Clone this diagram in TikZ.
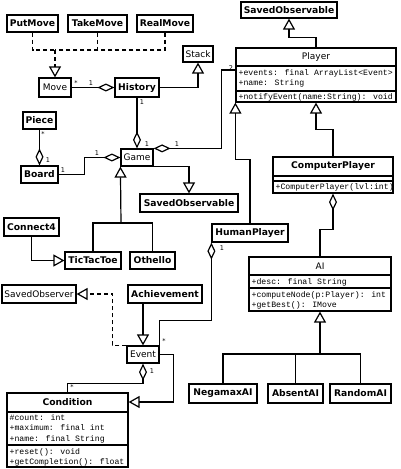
\documentclass[tikz,border=0pt]{standalone}
\usepackage{fontspec}
\setmainfont{DejaVu Sans}
\newfontfamily\monof{Liberation Mono}
\usetikzlibrary{arrows.meta}
\begin{document}
\begin{tikzpicture}[x=1pt,y=-1pt, line width=1.2pt,
 cls/.style={draw, line width=1.2pt, inner sep=0pt, fill=white, font=\fontsize{9.2}{11}\selectfont\bfseries},
 pl/.style={draw, line width=1.2pt, inner sep=0pt, fill=white, font=\fontsize{9}{11}\selectfont},
 ttl/.style={inner sep=0pt, font=\fontsize{9.2}{11}\selectfont\bfseries},
 ttlp/.style={inner sep=0pt, font=\fontsize{9}{11}\selectfont},
 mt/.style={anchor=west, inner sep=0pt, font=\monof\fontsize{8.2}{9}\selectfont},
 lbl/.style={inner sep=0pt, font=\fontsize{6.5}{7}\selectfont},
 inh/.style={-{Triangle[open,length=11pt,width=12pt]}},
 agg/.style={{Diamond[open,length=17pt,width=8pt]}-},
 realz/.style={dash pattern=on 4pt off 3pt}]
\useasboundingbox (0,0) rectangle (400,469);
\fill[white] (0,0) rectangle (400,469);

% class boxes
\node[cls,minimum width=96pt,minimum height=16pt] (so1) at (289,10) {SavedObservable};
\node[cls,minimum width=51pt,minimum height=17pt] (putmove) at (32.5,23.5) {PutMove};
\node[cls,minimum width=59pt,minimum height=17pt] (takemove) at (97.5,23.5) {TakeMove};
\node[cls,minimum width=56pt,minimum height=17pt] (realmove) at (165,23.5) {RealMove};
\node[pl,minimum width=30pt,minimum height=16pt] (stack) at (198,54) {Stack};
\node[pl,minimum width=32pt,minimum height=19pt] (move) at (55,87.5) {Move};
\node[cls,minimum width=44pt,minimum height=19pt] (history) at (137,87.5) {History};
\node[pl,minimum width=160pt,minimum height=54pt] (player) at (316,75) {};
\node[cls,minimum width=33pt,minimum height=17pt] (piece) at (39.5,120.5) {Piece};
\node[cls,minimum width=37pt,minimum height=17pt] (board) at (39.5,174.5) {Board};
\node[pl,minimum width=32pt,minimum height=17pt] (game) at (137,157.5) {Game};
\node[pl,minimum width=120pt,minimum height=36pt] (cplayer) at (333,175) {};
\node[cls,minimum width=98pt,minimum height=18pt] (so2) at (189,203) {SavedObservable};
\node[cls,minimum width=55pt,minimum height=18pt] (connect4) at (31.5,227) {Connect4};
\node[cls,minimum width=76pt,minimum height=18pt] (human) at (250,233) {HumanPlayer};
\node[cls,minimum width=56pt,minimum height=17pt] (tictactoe) at (93,260.5) {TicTacToe};
\node[cls,minimum width=45pt,minimum height=17pt] (othello) at (152.5,260.5) {Othello};
\node[pl,minimum width=142pt,minimum height=54pt] (ai) at (320,284) {};
\node[pl,minimum width=74pt,minimum height=18pt] (sobserver) at (39,294) {SavedObserver};
\node[cls,minimum width=74pt,minimum height=18pt] (achievement) at (165,294) {Achievement};
\node[pl,minimum width=32pt,minimum height=17pt] (event) at (143,354.5) {Event};
\node[cls,minimum width=68pt,minimum height=19pt] (negamax) at (223,393.5) {NegamaxAI};
\node[cls,minimum width=55pt,minimum height=19pt] (absent) at (295.5,393.5) {AbsentAI};
\node[cls,minimum width=61pt,minimum height=19pt] (random) at (360.5,393.5) {RandomAI};
\node[pl,minimum width=121pt,minimum height=74pt] (condition) at (67.5,430) {};

% compartments: Player
\draw (236,66) -- (396,66);
\draw (236,91) -- (396,91);
\node[ttlp] (ptitle) at (316,57) {Player};
\node[mt] (pa1) at (238,73) {+events: final ArrayList<Event>};
\node[mt] (pa2) at (238,83) {+name: String};
\node[mt] (pm1) at (238,97) {+notifyEvent(name:String): void};
% ComputerPlayer
\draw (273,176) -- (393,176);
\draw (273,181) -- (393,181);
\node[ttl] (ctitle) at (333,166) {ComputerPlayer};
\node[mt] (cm1) at (275,187) {+ComputerPlayer(lvl:int)};
% AI
\draw (249,275) -- (391,275);
\draw (249,288) -- (391,288);
\node[ttlp] (atitle) at (320,266) {AI};
\node[mt] (aa1) at (251,282) {+desc: final String};
\node[mt] (am1) at (251,295) {+computeNode(p:Player): int};
\node[mt] (am2) at (251,305) {+getBest(): IMove};
% Condition
\draw (7,412) -- (128,412);
\draw (7,445) -- (128,445);
\node[ttl] (ktitle) at (67.5,402) {Condition};
\node[mt] (ka1) at (9,418) {\#count: int};
\node[mt] (ka2) at (9,428) {+maximum: final int};
\node[mt] (ka3) at (9,439) {+name: final String};
\node[mt] (km1) at (9,452) {+reset(): void};
\node[mt] (km2) at (9,462) {+getCompletion(): float};

% Move realizations
\coordinate (mj) at (55,50);
\draw[realz] (putmove.south) |- (mj);
\draw[realz] (realmove.south) |- (mj);
\draw[realz] (takemove.south) -- (takemove.south |- mj);
\draw[realz,inh] (mj) -- (move.north);

% Move - History
\draw[agg] (history.west) -- (move.east);
\node[lbl] (l1) at (76,83) {*};
\node[lbl] (l2) at (91,83) {1};
% History -> Stack
\draw[inh] (history.east) -| (stack.south);
% History - Game
\draw[{Diamond[open,length=17pt,width=8pt]}-] (game.north) -- (history.south);
\node[lbl] (l3) at (142,102) {1};
\node[lbl] (l4) at (147,144) {1};
% Piece - Board
\draw[agg] (board.north) -- (piece.south);
\node[lbl] (l5) at (43,134) {*};
\node[lbl] (l6) at (48,160) {1};
% Board - Game
\draw[agg] (game.west) -- ++(-36pt,0) |- (board.east);
\node[lbl] (l7) at (63,170) {1};
\node[lbl] (l8) at (97,153) {1};
% Game - Player
\draw[agg] (game.north east) -- ++(68pt,0) |- ([yshift=5pt]player.west);
\node[lbl] (l9) at (177,144) {1};
\node[lbl] (l10) at (231,68) {2};
% Game -> SavedObservable
\draw[inh] (game.south east) -| (so2.north);
% Game generalization
\coordinate (gj) at (121,223);
\draw (tictactoe.north) |- (gj) -| (othello.north);
\draw[inh] (gj) -- (game.south west);
% Connect4 -> TicTacToe
\draw[inh] (connect4.south) |- (tictactoe.west);
% Player -> SavedObservable
\draw[inh] (player.north) -- ++(0,10pt) -| (so1.south);
% HumanPlayer -> Player
\draw[inh] (human.north) -- ++(0,64pt) -| (player.south west);
% ComputerPlayer -> Player
\draw[inh] (cplayer.north) -- ++(0,27pt) -| (player.south);
% ComputerPlayer - AI
\draw[agg] (cplayer.south) -- ++(0,-36pt) -| (ai.north);
% AI generalization
\coordinate (aj) at (320,354);
\draw (negamax.north) |- (aj) -| (random.north);
\draw (absent.north) -- (absent.north |- aj);
\draw[inh] (aj) -- (ai.south);
% Achievement -> Event
\draw[inh] (event.north |- achievement.south) -- (event.north);
% Event -> SavedObserver
\draw[realz,inh] (event.north west) -- ++(-14pt,0) |- (sobserver.east);
% HumanPlayer - Event
\draw[agg] (human.south west) -- ++(0,-78pt) -| (event.north east);
\node[lbl] (l11) at (222,248) {1};
\node[lbl] (l12) at (164,341) {*};
% Event - Condition
\draw[agg] (event.south) -- ++(0,-20pt) -| (condition.north);
\node[lbl] (l13) at (152,371) {1};
\node[lbl] (l14) at (72,387) {*};
% Event -> Condition
\draw[inh] (event.east) -- ++(14pt,0) |- ([yshift=28pt]condition.east);
\end{tikzpicture}
\end{document}
